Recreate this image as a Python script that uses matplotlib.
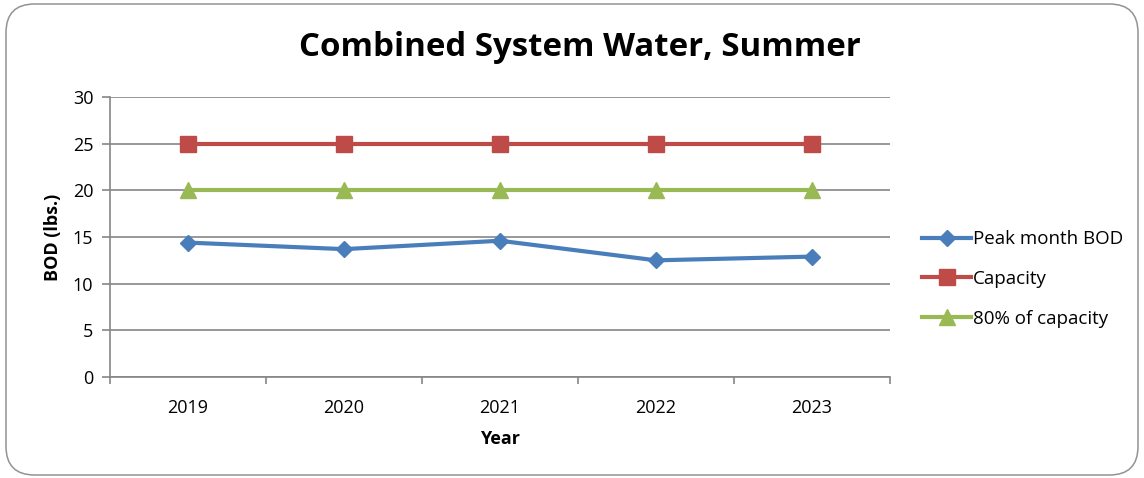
import matplotlib.pyplot as plt
from matplotlib.patches import FancyBboxPatch

# Data
years = ["2019", "2020", "2021", "2022", "2023"]
peak_bod = [14.4, 13.7, 14.6, 12.5, 12.9]
capacity = [25, 25, 25, 25, 25]
capacity_80 = [20, 20, 20, 20, 20]

plt.rcParams['font.family'] = ['Open Sans', 'DejaVu Sans']

fig = plt.figure(figsize=(11.44, 4.78), dpi=100)
ax = fig.add_axes([110 / 1144, 101 / 478, 780 / 1144, 280 / 478])

# rounded chart border
border = FancyBboxPatch((6 / 1144, 3 / 478), 1132 / 1144, 471 / 478,
                        boxstyle="round,pad=0,rounding_size=0.025",
                        transform=fig.transFigure, fill=False,
                        edgecolor="#939393", linewidth=1.1,
                        mutation_aspect=1144 / 478)
fig.patches.append(border)

x = list(range(len(years)))
ax.plot(x, peak_bod, color="#4A7EBB", lw=3, marker="D", ms=8.5,
        label="Peak month BOD", zorder=3)
ax.plot(x, capacity, color="#BE4B48", lw=3, marker="s", ms=11,
        label="Capacity", zorder=3)
ax.plot(x, capacity_80, color="#98B954", lw=3, marker="^", ms=12,
        label="80% of capacity", zorder=3)

ax.set_xlim(-0.5, len(years) - 0.5)
ax.set_ylim(0, 30)
ax.set_yticks(range(0, 31, 5))
ax.set_xticks(x)
ax.set_xticklabels(years)
ax.set_xticks([i - 0.5 for i in range(len(years) + 1)], minor=True)
ax.tick_params(axis="x", which="major", length=0, pad=16, labelsize=13)
ax.tick_params(axis="x", which="minor", length=5, color="#868686", width=1.2)
ax.tick_params(axis="y", length=6, color="#868686", width=1.2, labelsize=13, pad=6)
ax.grid(axis="y", color="#868686", lw=1.2)
ax.set_axisbelow(True)
for side in ["top", "right"]:
    ax.spines[side].set_visible(False)
ax.spines["left"].set_color("#868686")
ax.spines["bottom"].set_color("#868686")
ax.spines["left"].set_linewidth(1.2)
ax.spines["bottom"].set_linewidth(1.2)

ax.set_xlabel("Year", fontsize=13, fontweight="bold", labelpad=9)
ax.set_ylabel("BOD (lbs.)", fontsize=13, fontweight="bold", labelpad=8)
fig.text(580 / 1144, 1 - 47 / 478, "Combined System Water, Summer",
         fontsize=23.8, fontweight="bold", ha="center", va="center")

ax.legend(loc="center left", bbox_to_anchor=(1.02, 0.35), frameon=False,
          fontsize=13.5, handlelength=2.6, handletextpad=0.1, labelspacing=1.15)

fig.savefig("out.png", dpi=100)
